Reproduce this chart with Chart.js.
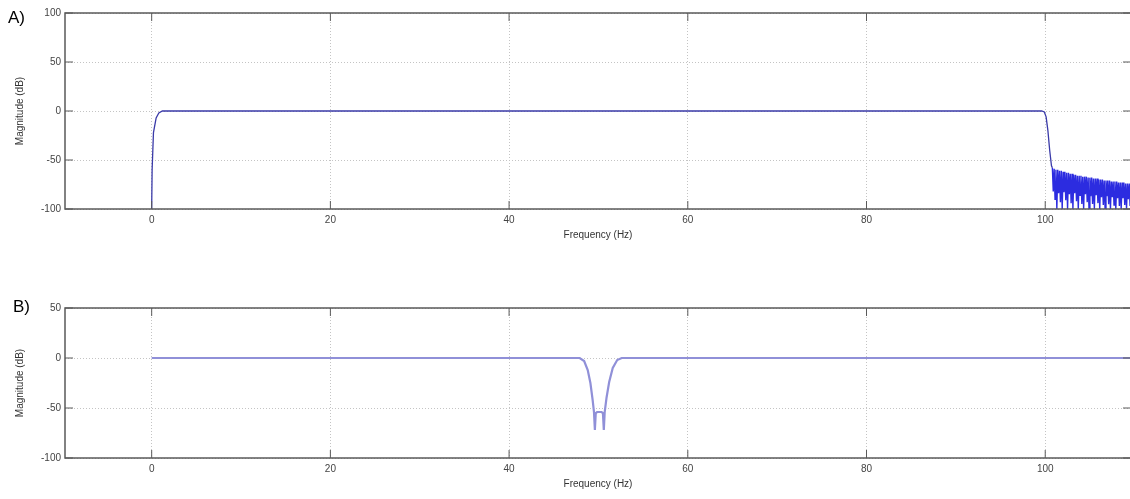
<!DOCTYPE html>
<html>
<head>
<meta charset="utf-8">
<script src="https://cdn.jsdelivr.net/npm/chart.js@4.4.1/dist/chart.umd.min.js"></script>
<style>
  html, body { margin: 0; padding: 0; background: #fff; overflow: hidden; }
  body { width: 1130px; height: 499px; position: relative; }
  canvas { position: absolute; left: 0; }
  #chartA { top: 0; }
  #chartB { top: 290px; }
  .panel-tag { position: absolute; font-family: "Liberation Sans", Arial, sans-serif; font-size: 17px; color: #000; }
</style>
</head>
<body>
<canvas id="chartA" width="1140" height="250"></canvas>
<canvas id="chartB" width="1140" height="209"></canvas>
<div class="panel-tag" style="left:8px; top:8px;">A)</div>
<div class="panel-tag" style="left:13px; top:297px;">B)</div>
<script>
// Bandpass response: passband and the edge down into the stopband
const freqPassA = [0, 0.05, 0.2, 0.5, 0.8, 1.2, 99.6, 99.9, 100.1, 100.3, 100.5, 100.7, 100.8];
const magPassA = [-100, -60, -22, -7, -2, 0, 0, -1, -6, -20, -40, -56, -58];

// Stopband ripple above 100 Hz
const freqStopA = [100.8, 100.9, 101.0, 101.1, 101.2, 101.3, 101.4, 101.5, 101.6, 101.7,
  101.8, 101.9, 102.0, 102.1, 102.2, 102.3, 102.4, 102.5, 102.6, 102.7,
  102.8, 102.9, 103.0, 103.1, 103.2, 103.3, 103.4, 103.5, 103.6, 103.7,
  103.8, 103.9, 104.0, 104.1, 104.2, 104.3, 104.4, 104.5, 104.6, 104.7,
  104.8, 104.9, 105.0, 105.1, 105.2, 105.3, 105.4, 105.5, 105.6, 105.7,
  105.8, 105.9, 106.0, 106.1, 106.2, 106.3, 106.4, 106.5, 106.6, 106.7,
  106.8, 106.9, 107.0, 107.1, 107.2, 107.3, 107.4, 107.5, 107.6, 107.7,
  107.8, 107.9, 108.0, 108.1, 108.2, 108.3, 108.4, 108.5, 108.6, 108.7,
  108.8, 108.9, 109.0, 109.1, 109.2, 109.3, 109.4, 109.5, 109.6, 109.7];
const magStopA = [-58, -82, -59, -90, -60, -100, -60, -84, -61, -93,
  -61, -100, -62, -83, -62, -91, -63, -100, -63, -85,
  -64, -94, -64, -100, -65, -84, -65, -92, -66, -100,
  -66, -86, -66, -95, -67, -100, -67, -85, -67, -93,
  -68, -100, -68, -87, -68, -95, -69, -100, -69, -86,
  -69, -94, -70, -100, -70, -88, -70, -96, -71, -100,
  -71, -87, -71, -95, -71, -100, -72, -88, -72, -96,
  -72, -100, -72, -89, -73, -97, -73, -100, -73, -89,
  -73, -96, -74, -100, -74, -90, -74, -97, -74, -100];

// Notch response around 50 Hz
const freqB = [0, 47.9, 48.4, 48.8, 49.1, 49.35, 49.5, 49.6, 49.7, 49.85,
  50.35, 50.5, 50.6, 50.7, 50.9, 51.2, 51.6, 52.1, 52.6, 110];
const magB = [0, 0, -3, -12, -25, -42, -54, -72, -55, -54,
  -54, -55, -72, -54, -40, -24, -10, -2, 0, 0];

const freqTicks = [0, 20, 40, 60, 80, 100];
const magTicksA = [-100, -50, 0, 50, 100];
const magTicksB = [-100, -50, 0, 50];

const FONT = "'Liberation Sans', Arial, sans-serif";

// frame around the plot area with small inward tick marks on all four sides
const framePlugin = {
  id: "frame",
  afterDraw(chart) {
    const { ctx, chartArea: a, scales } = chart;
    const len = 8;
    ctx.save();
    ctx.strokeStyle = "#5a5a5a";
    ctx.lineWidth = 1.5;
    ctx.strokeRect(a.left, a.top, a.right - a.left, a.bottom - a.top);
    ctx.lineWidth = 1;
    ctx.beginPath();
    scales.x.ticks.forEach(t => {
      const px = scales.x.getPixelForValue(t.value);
      ctx.moveTo(px, a.bottom); ctx.lineTo(px, a.bottom - len);
      ctx.moveTo(px, a.top); ctx.lineTo(px, a.top + len);
    });
    scales.y.ticks.forEach(t => {
      const py = scales.y.getPixelForValue(t.value);
      ctx.moveTo(a.left, py); ctx.lineTo(a.left + len, py);
      ctx.moveTo(a.right, py); ctx.lineTo(a.right - len, py);
    });
    ctx.stroke();
    ctx.restore();
  }
};

function series(xs, ys, color, width) {
  return {
    data: xs.map((x, i) => ({ x, y: ys[i] })),
    borderColor: color,
    borderWidth: width,
    pointRadius: 0,
    tension: 0,
    fill: false,
  };
}

function makeChart(id, datasets, yTicks, yMin, yMax, padTop) {
  return new Chart(document.getElementById(id), {
    type: "line",
    data: { datasets },
    options: {
      responsive: false,
      animation: false,
      layout: { padding: { top: padTop, right: 9, left: 0, bottom: 0 } },
      plugins: { legend: { display: false }, tooltip: { enabled: false } },
      scales: {
        x: {
          type: "linear",
          min: -9.7,
          max: 109.6,
          afterBuildTicks: (scale) => { scale.ticks = freqTicks.map(v => ({ value: v })); },
          afterFit: (scale) => { scale.height = 41; },
          grid: { color: "#c4c4c4", drawTicks: false },
          border: { display: false, dash: [1, 2] },
          ticks: { padding: 5, color: "#444", font: { family: FONT, size: 10 } },
          title: {
            display: true,
            text: "Frequency (Hz)",
            color: "#333",
            font: { family: FONT, size: 10 },
            padding: { top: 9, bottom: 9 },
          },
        },
        y: {
          type: "linear",
          min: yMin,
          max: yMax,
          afterBuildTicks: (scale) => { scale.ticks = yTicks.map(v => ({ value: v })); },
          afterFit: (scale) => { scale.width = 65; },
          grid: { color: "#c4c4c4", drawTicks: false },
          border: { display: false, dash: [1, 2] },
          ticks: { padding: 4, color: "#444", font: { family: FONT, size: 10 } },
          title: {
            display: true,
            text: "Magnitude (dB)",
            color: "#333",
            font: { family: FONT, size: 10 },
            padding: { top: 14, bottom: 14 },
          },
        },
      },
    },
    plugins: [framePlugin],
  });
}

makeChart("chartA", [
  series(freqPassA, magPassA, "#3a3aa8", 1.3),
  series(freqStopA, magStopA, "#2c2ce0", 1.4),
], magTicksA, -100, 100, 13);
makeChart("chartB", [
  series(freqB, magB, "#9090d8", 2.2),
], magTicksB, -100, 50, 18);
</script>
</body>
</html>
